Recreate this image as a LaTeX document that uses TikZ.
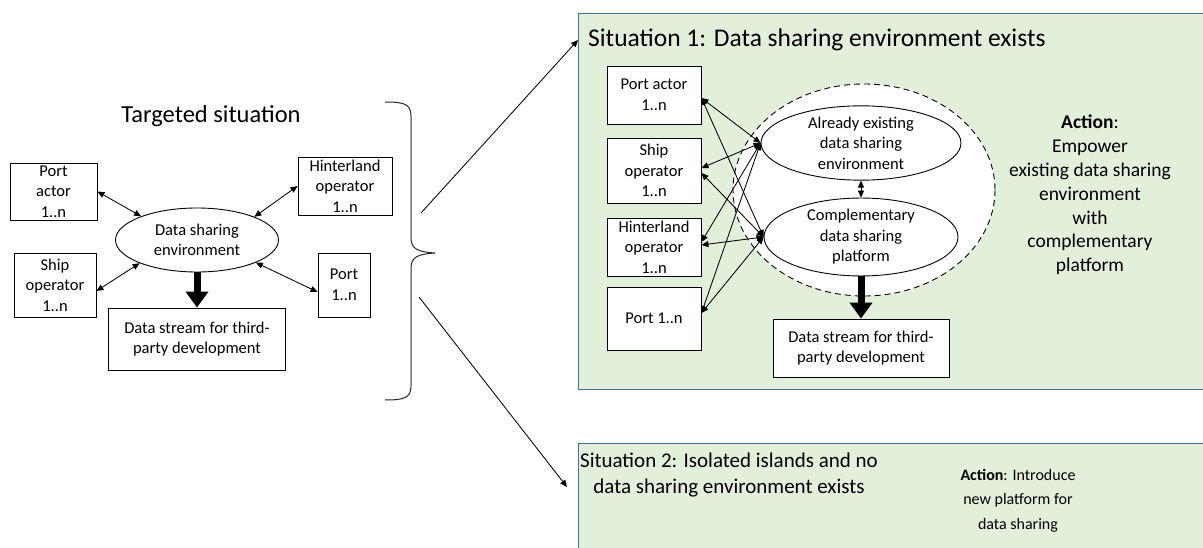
\documentclass[tikz,border=0pt]{standalone}
\usepackage{fontspec}
\setmainfont{Carlito}
\usetikzlibrary{shapes.geometric,arrows.meta,calc}
\definecolor{panelfill}{HTML}{E2EFDA}
\definecolor{panelline}{HTML}{41719C}

\begin{document}
\begin{tikzpicture}[x=1pt,y=-1pt,
  boxfont/.style={font=\fontsize{16.5}{20.5}\selectfont},
  actor/.style={boxfont, draw, fill=white, line width=0.9pt, inner sep=0pt, align=center},
  pool/.style={boxfont, ellipse, draw, fill=white, line width=0.9pt, inner sep=0pt, align=center},
  link/.style={{Triangle[length=7pt,width=6pt]}-{Triangle[length=7pt,width=6pt]}, line width=0.85pt},
  pointer/.style={-{Triangle[length=7pt,width=6pt]}, line width=0.85pt},
  feed/.style={-{Triangle[length=16pt,width=22pt]}, line width=7pt},
  panel/.style={draw=panelline, fill=panelfill, line width=1.3pt, inner sep=0pt, anchor=north west}
]
\useasboundingbox (0,0) rectangle (1203,548);
\clip (0,0) rectangle (1203,548);

% ---------- targeted situation ----------
\node[font=\fontsize{24.5}{28}\selectfont] (ttl) at (211,116) {Targeted situation};

\node[pool, minimum width=163, minimum height=64] (dse) at (197,240) {Data sharing\\environment};
\node[actor, minimum width=87, minimum height=57] (pa) at (53.5,191.5) {Port\\actor\\1..n};
\node[actor, minimum width=94, minimum height=58] (ho) at (345,186) {Hinterland\\operator\\1..n};
\node[actor, minimum width=82, minimum height=64] (so) at (55,285) {Ship\\operator\\1..n};
\node[actor, minimum width=52, minimum height=64] (po) at (344,285) {Port\\1..n};
\node[actor, minimum width=177, minimum height=62] (ds) at (197,339) {Data stream for third-\\party development};

\draw[link] (pa.east) -- (dse.157);
\draw[link] (ho.west) -- (dse.22);
\draw[link] ([yshift=-6pt]so.east) -- (dse.202);
\draw[link] ([yshift=-7pt]po.west) -- (dse.339);
\draw[feed] (dse.south) -- (ds.north);

% ---------- brace and branches ----------
\draw[line width=1pt, black!85] (385,102) .. controls (404,102) and (411,104) .. (411,116)
  -- (411,238) .. controls (411,249) and (418,252) .. (435,253)
  .. controls (418,254) and (411,257) .. (411,268)
  -- (411,386) .. controls (411,398) and (404,400) .. (385,400);

\coordinate (up) at (421,213);
\coordinate (down) at (419,297);

% ---------- situation 1 ----------
\node[panel, minimum width=637, minimum height=376] (sit1) at (578,13) {};
\coordinate (s1in) at (578,40);
\draw[pointer] (up) -- (s1in);

\node[anchor=west, inner sep=0pt, font=\fontsize{25.5}{30}\selectfont] (t1) at (588,40)
  {Situation 1: Data sharing environment exists};

\draw[dashed, dash pattern=on 6pt off 4pt, line width=0.9pt, fill=white] (864,190) ellipse [x radius=131, y radius=106];
\node[pool, minimum width=200, minimum height=66] (e1) at (861,143) {Already existing\\data sharing\\environment};
\node[pool, minimum width=194, minimum height=70] (e2) at (861,237) {Complementary\\data sharing\\platform};

\node[actor, minimum width=94, minimum height=58] (pa1) at (654,95) {Port actor\\1..n};
\node[actor, minimum width=94, minimum height=65] (so1) at (654,170.5) {Ship\\operator\\1..n};
\node[actor, minimum width=94, minimum height=58] (ho1) at (654,247) {Hinterland\\operator\\1..n};
\node[actor, minimum width=94, minimum height=63] (po1) at (654,318.5) {Port 1..n};
\node[actor, minimum width=176, minimum height=58] (ds1) at (861,348) {Data stream for third-\\party development};

\draw[link] ([yshift=-3pt]pa1.east) -- (e1.west);
\draw[link] ([yshift=-3pt]pa1.east) -- (e2.west);
\draw[link] ([yshift=2.5pt]so1.east) -- (e1.west);
\draw[link] ([yshift=-2.5pt]so1.east) -- (e2.west);
\draw[link] ([yshift=5pt]ho1.east) -- (e1.west);
\draw[link] ([yshift=2pt]ho1.east) -- (e2.west);
\draw[link] ([yshift=5.5pt]po1.east) -- (e1.west);
\draw[link] ([yshift=5.5pt]po1.east) -- (e2.west);
\draw[link] (e1.south) -- (e2.north);
\draw[feed] (e2.south) -- (ds1.north);

\node[align=center, font=\fontsize{19.5}{23.8}\selectfont] (act1) at (1090,195)
  {\textbf{Action}:\\Empower\\existing data sharing\\environment\\with\\complementary\\platform};

% ---------- situation 2 ----------
\node[panel, minimum width=637, minimum height=120] (sit2) at (578,443) {};
\coordinate (s2in) at (567,487);
\draw[pointer] (down) -- (s2in);

\node[align=center, font=\fontsize{21}{26}\selectfont] (t2) at (729,475)
  {Situation 2: Isolated islands and no\\data sharing environment exists};
\node[align=center, font=\fontsize{16}{24.5}\selectfont] (act2) at (1018,500.5)
  {\textbf{Action}: Introduce\\new platform for\\data sharing};
\end{tikzpicture}
\end{document}
